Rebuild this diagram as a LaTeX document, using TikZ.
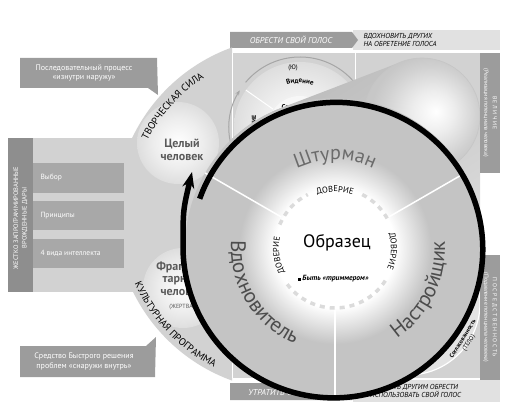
\documentclass[tikz,border=0pt]{standalone}
\usepackage{fontspec}
\setmainfont{PT Sans}
\usetikzlibrary{calc,decorations.text,arrows.meta}
\definecolor{bggrey}{HTML}{D2D2D2}
\definecolor{boxgrey}{HTML}{9C9C9C}
\definecolor{bargrey}{HTML}{A8A8A8}
\definecolor{stripgrey}{HTML}{8E8E8E}
\definecolor{paleboxgrey}{HTML}{E1E1E1}
\definecolor{ringgrey}{HTML}{C4C4C4}
\definecolor{wordgrey}{HTML}{5A5A5A}
\pgfdeclareradialshading{frontglow}{\pgfpoint{0bp}{0bp}}{color(0bp)=(white); color(10bp)=(white); color(16bp)=(ringgrey); color(50bp)=(ringgrey)}
\pgfdeclareradialshading{ballglow}{\pgfpoint{0bp}{0bp}}{color(0bp)=(white); color(15bp)=(gray!14); color(25bp)=(gray!26); color(50bp)=(gray!26)}
\pgfdeclareradialshading{backlit}{\pgfpoint{6bp}{2bp}}{color(0bp)=(white); color(9bp)=(gray!14); color(20bp)=(gray!36); color(25bp)=(gray!44); color(50bp)=(gray!44)}

\begin{document}
\begin{tikzpicture}[x=1pt, y=1pt,
	callout/.style={text=white, font=\fontsize{8}{9.5}\selectfont, align=center},
	bartext/.style={text=white, font=\fontsize{7.5}{9}\selectfont, anchor=west},
	capsbar/.style={text=white, font=\itshape\fontsize{8.5}{9}\selectfont},
	capsnote/.style={font=\itshape\fontsize{7.2}{8}\selectfont, align=left, anchor=west},
	sidebar/.style={text=white, font=\fontsize{5.8}{8.5}\selectfont, align=center, rotate=-90},
	bigword/.style={font=\bfseries\fontsize{12}{12.5}\selectfont, text=wordgrey, align=center},
	curved/.style n args={3}{decorate, decoration={text along path, text align=center, text color=#1, text={|#2|#3}}}]
	\useasboundingbox (0,0) rectangle (518,415);

	\fill[paleboxgrey] (353,365) rectangle (500,385);
	\fill[boxgrey] (230,367) -- (352,367) -- (358,375) -- (352,383) -- (230,383) -- cycle;
	\node[capsbar] (gain) at (291,375) {ОБРЕСТИ СВОЙ ГОЛОС};
	\node[capsnote] (inspire) at (360,375) {ВДОХНОВИТЬ ДРУГИХ\\НА ОБРЕТЕНИЕ ГОЛОСА};
	\fill[paleboxgrey] (353,13) rectangle (500,35);
	\fill[boxgrey] (230,15) -- (352,15) -- (358,23.5) -- (352,32) -- (230,32) -- cycle;
	\node[capsbar] (lose) at (291,23.5) {УТРАТИТЬ СВОЙ ГОЛОС};
	\node[capsnote] (allow) at (360,24) {ПОЗВОЛЯТЬ ДРУГИМ ОБРЕСТИ\\И ИСПОЛЬЗОВАТЬ СВОЙ ГОЛОС};

	\begin{scope}
		\clip (0,0) rectangle (232,415);
		\fill[bggrey] (292,201) circle[radius=177];
	\end{scope}
	\fill[bggrey] (232,37) rectangle (480,362);
	\fill[bggrey] (33,123) rectangle (140,277);
	\fill[stripgrey] (8,123) rectangle (33,277);
	\node[text=white, font=\fontsize{6.5}{8.5}\selectfont, rotate=90, align=center] (gifts) at (20.5,197) {ЖЕСТКО ЗАПРОГРАММИРОВАННЫЕ\\ВРОЖДЕННЫЕ ДАРЫ};
	\fill[bargrey] (33,222) rectangle (124,252);
	\node[bartext] (choice) at (37,237) {Выбор};
	\fill[bargrey] (33,185) rectangle (124,214);
	\node[bartext] (principles) at (37,199.5) {Принципы};
	\fill[bargrey] (33,147) rectangle (124,176);
	\node[bartext] (intellect) at (37,161.5) {4 вида интеллекта};

	\fill[boxgrey] (20,357) -- (157,357) -- (158,320) -- (148,327) -- (20,327) -- cycle;
	\node[callout] (inside) at (84,342) {Последовательный процесс\\«изнутри наружу»};
	\fill[boxgrey] (20,69) -- (146,69) -- (156,78) -- (155,38) -- (20,38) -- cycle;
	\node[callout] (outside) at (84,53.5) {Средство Быстрого решения\\проблем «снаружи внутрь»};

	\draw[white, line width=1pt] (232,37) -- (232,362);
	\draw[white, line width=1pt] (355,37) -- (355,362);

	\coordinate (vis) at (300,287);
	\shade[shading=ballglow] (vis) circle[radius=66];
	\fill[gray!6] (vis) circle[radius=32];
	\draw[white, line width=1pt] ($(vis)+(145:33)$) -- ($(vis)+(145:66)$);
	\draw[gray!70, line width=1pt] ($(vis)+(140:71)$) arc[start angle=140, end angle=15, radius=71];
	\draw[gray!70, line width=1pt, -{Stealth[length=5pt, width=4pt]}] ($(vis)+(218:71)$) arc[start angle=218, end angle=148, radius=71];
	\node[font=\fontsize{6.5}{7}\selectfont] (mindtag) at (293,347) {(Ю)};
	\path[curved={black}{\bfseries\fontsize{7}{7}\selectfont}{Видение}] ($(vis)+(115:45)$) arc[start angle=115, end angle=65, radius=45];
	\node[font=\bfseries\fontsize{7}{7}\selectfont, anchor=base west] (conscience) at (278,305) {Совесть};
	\node[font=\bfseries\fontsize{6}{6}\selectfont, rotate=90, anchor=east] (drive) at (254,303) {СТРЕМЛЕНИЕ};

	\fill[gray!22, draw=white, line width=1.2pt] (408,112) circle[radius=72];
	\node[font=\bfseries\fontsize{6}{7}\selectfont, rotate=58, align=center] (accord) at (466,74) {Согласованность\\\mdseries(ТЕЛО)};

	\begin{scope}
		\clip (232,37) rectangle (480,362);
		\shade[top color=gray!55, bottom color=gray!18, shading angle=33] \foreach \t in {0,0.025,...,1} {({335+87*\t},{167+132*\t}) circle[radius={150-92*\t}]};
		\shade[shading=backlit] (422,299) circle[radius=58];
		\draw[gray!45, line width=0.6pt] (422,299) circle[radius=58];
	\end{scope}

	\fill[boxgrey] (480,242) rectangle (500,362);
	\node[sidebar] (greatness) at (490,302) {В Е Л И Ч И Е\\(Реализация потенциала человека)};
	\fill[boxgrey] (480,35) rectangle (500,160);
	\node[sidebar] (mediocrity) at (490,97.5) {П О С Р Е Д С Т В Е Н Н О С Т Ь\\(Подавление потенциала человека)};

	\shade[shading=ballglow] (178,272) circle[radius=41];
	\node[bigword] (whole) at (182,265) {Целый\\человек};
	\shade[shading=ballglow] (183,127) circle[radius=40];
	\node[bigword] (fragment) at (182,129) {Фрагмен-\\тарный\\человек\\[1pt]{\mdseries\fontsize{6}{6}\selectfont (ЖЕРТВА)}};
	\path[curved={black}{\fontsize{10}{10}\selectfont}{ТВОРЧЕСКАЯ СИЛА}] ($(292,201)+(160:162)$) arc[start angle=160, end angle=116, radius=162];
	\path[curved={black}{\fontsize{10}{10}\selectfont}{КУЛЬТУРНАЯ ПРОГРАММА}] ($(292,201)+(197:172)$) arc[start angle=197, end angle=250, radius=172];

	\coordinate (core) at (335,167);
	\shade[shading=frontglow] (core) circle[radius=150];
	\foreach \a in {150,30,270}
		\draw[white, line width=1.5pt] ($(core)+(\a:62)$) -- ($(core)+(\a:150)$);
	\draw[gray!28, line width=3.5pt, dash pattern=on 5pt off 5pt] ($(core)+(63:60)$) arc[start angle=63, end angle=27, radius=60];
	\draw[gray!28, line width=3.5pt, dash pattern=on 5pt off 5pt] ($(core)+(-33:60)$) arc[start angle=-33, end angle=-143, radius=60];
	\draw[gray!28, line width=3.5pt, dash pattern=on 5pt off 5pt] ($(core)+(157:60)$) arc[start angle=157, end angle=117, radius=60];
	\path[curved={black}{\fontsize{8.5}{8.5}\selectfont}{ДОВЕРИЕ}] ($(core)+(115:56)$) arc[start angle=115, end angle=65, radius=56];
	\path[curved={black}{\fontsize{8.5}{8.5}\selectfont}{ДОВЕРИЕ}] ($(core)+(215:56)$) arc[start angle=215, end angle=160, radius=56];
	\path[curved={black}{\fontsize{8.5}{8.5}\selectfont}{ДОВЕРИЕ}] ($(core)+(25:56)$) arc[start angle=25, end angle=-31, radius=56];
	\node[font=\fontsize{18}{18}\selectfont] (model) at (337,172) {Образец};
	\node[font=\bfseries\itshape\fontsize{7.5}{8}\selectfont] (trimmer) at (333,136) {\rule{3pt}{3pt}\ Быть «триммером»};
	\path[curved={black!58}{\fontsize{20}{20}\selectfont}{Штурман}] ($(core)+(128:88)$) arc[start angle=128, end angle=52, radius=88];
	\path[curved={black!70}{\fontsize{21}{21}\selectfont}{Вдохновитель}] ($(core)+(163:104)$) arc[start angle=163, end angle=260, radius=104];
	\path[curved={black!70}{\fontsize{21}{21}\selectfont}{Настройщик}] ($(core)+(-74:110)$) arc[start angle=-74, end angle=22, radius=110];

	\coordinate (tip) at (192,243);
	\draw[line width=5.5pt, -{Stealth[length=16pt, width=12pt]}] plot[domain=160:-180, samples=120, smooth] ({335+(144+(160-(\x))*8/340)*cos(\x)}, {167+(144+(160-(\x))*8/340)*sin(\x)}) .. controls (183,205) .. (tip);
\end{tikzpicture}
\end{document}
